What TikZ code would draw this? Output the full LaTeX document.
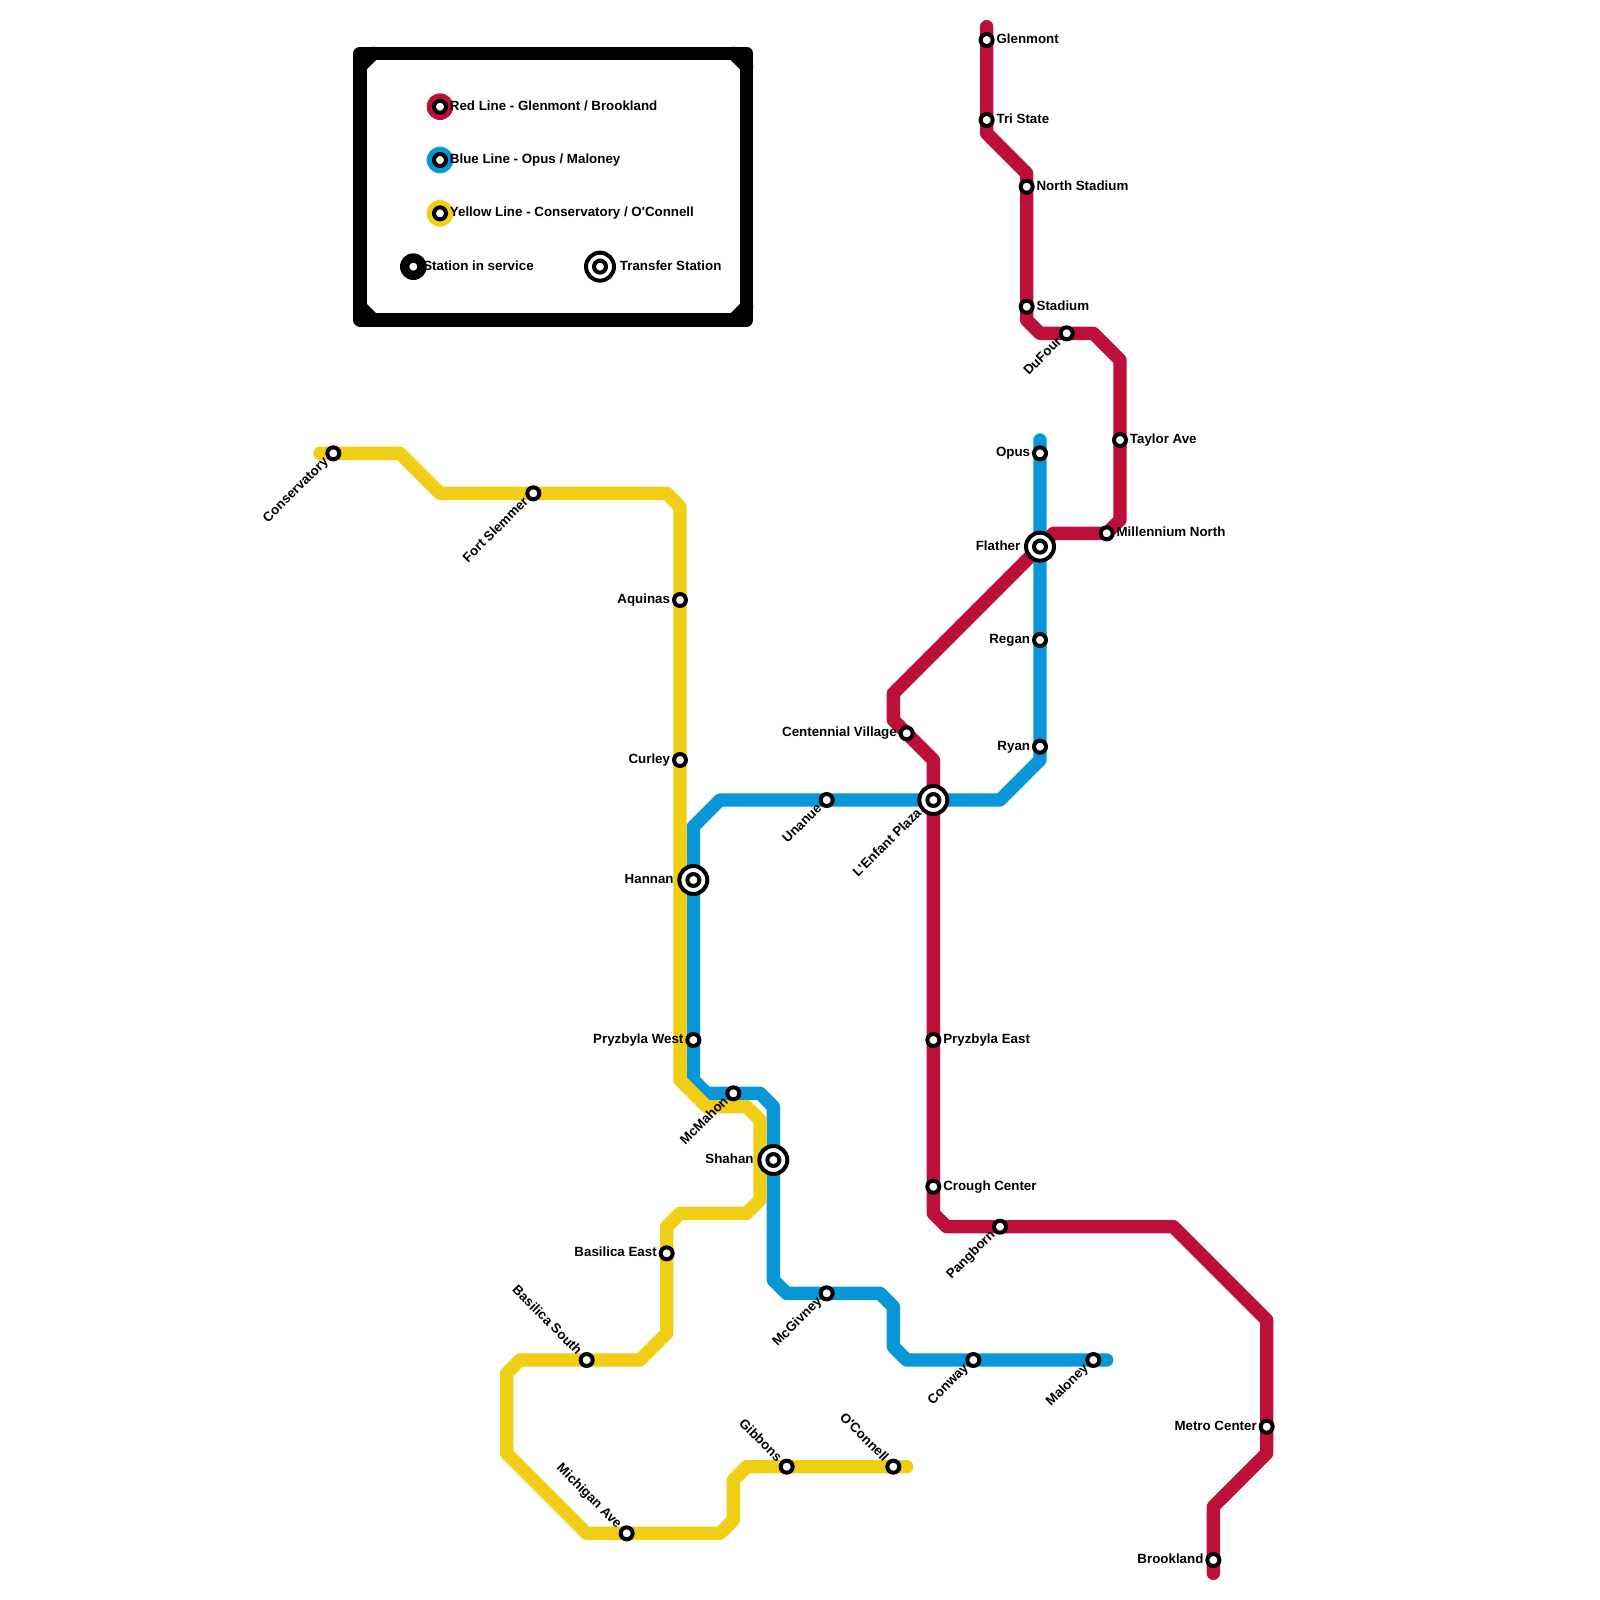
\documentclass[tikz,border=0pt]{standalone}
\usepackage{fontspec}
\newfontfamily\lblfont{Liberation Sans}
\definecolor{mred}{HTML}{BD1038}
\definecolor{mblue}{HTML}{0896D7}
\definecolor{myellow}{HTML}{F0CE15}
\pgfdeclarelayer{rails}
\pgfsetlayers{rails,main}
\tikzset{
  rail/.style={line width=10pt,line cap=round,line join=round},
  frame/.style={rail,draw=black},
  stop/.style={circle,draw=black,fill=white,line width=3pt,minimum size=9pt,inner sep=0pt},
  hub/.style={circle,draw=black,fill=white,line width=3pt,minimum size=21pt,inner sep=0pt},
  dot/.style={circle,inner sep=0pt,minimum size=20pt},
  txt/.style={font=\lblfont\bfseries\fontsize{10pt}{12pt}\selectfont,inner sep=0pt,text=black},
  lr/.style={txt,anchor=base west,shift={(7.25pt,-2.5pt)}},
  ll/.style={txt,anchor=base east,shift={(-7.25pt,-2.5pt)}},
  il/.style={txt,anchor=base east,shift={(-14.6pt,-2.5pt)}},
  dl/.style={txt,anchor=base east,rotate=45,shift={(-6.9pt,-2.44pt)}},
  ddl/.style={txt,anchor=base east,rotate=45,shift={(-13.05pt,-1.45pt)}},
  ul/.style={txt,anchor=base east,rotate=-45,shift={(-7.44pt,-3.07pt)}},
}
\newcommand{\hubmark}[2]{\node[hub] (#1-o) at (#2) {}; \node[stop] (#1) at (#2) {};}
\begin{document}
\begin{tikzpicture}[x=10pt,y=-10pt]
\useasboundingbox (0,0) rectangle (120,120);
% stations red
\node[stop] (glenmont) at (74,3) {};
\node[stop] (tristate) at (74,9) {};
\node[stop] (northstadium) at (77,14) {};
\node[stop] (stadium) at (77,23) {};
\node[stop] (dufour) at (80,25) {};
\node[stop] (taylor) at (84,33) {};
\node[stop] (millennium) at (83,40) {};
\node[stop] (centennial) at (68,55) {};
\node[stop] (pryzeast) at (70,78) {};
\node[stop] (crough) at (70,89) {};
\node[stop] (pangborn) at (75,92) {};
\node[stop] (metro) at (95,107) {};
\node[stop] (brookland) at (91,117) {};
% stations blue
\node[stop] (opus) at (78,34) {};
\node[stop] (regan) at (78,48) {};
\node[stop] (ryan) at (78,56) {};
\node[stop] (unanue) at (62,60) {};
\node[stop] (pryzwest) at (52,78) {};
\node[stop] (mcmahon) at (55,82) {};
\node[stop] (mcgivney) at (62,97) {};
\node[stop] (conway) at (73,102) {};
\node[stop] (maloney) at (82,102) {};
% stations yellow
\node[stop] (conservatory) at (25,34) {};
\node[stop] (slemmer) at (40,37) {};
\node[stop] (aquinas) at (51,45) {};
\node[stop] (curley) at (51,57) {};
\node[stop] (baseast) at (50,94) {};
\node[stop] (bassouth) at (44,102) {};
\node[stop] (michigan) at (47,115) {};
\node[stop] (gibbons) at (59,110) {};
\node[stop] (oconnell) at (67,110) {};
% transfer stations
\hubmark{flather}{78,41}
\hubmark{lenfant}{70,60}
\hubmark{hannan}{52,66}
\hubmark{shahan}{58,87}
% free ends and bends
\coordinate (r0) at (74,2);
\coordinate (r1) at (74,10);
\coordinate (r2) at (77,13);
\coordinate (r3) at (77,24);
\coordinate (r4) at (78,25);
\coordinate (r5) at (82,25);
\coordinate (r6) at (84,27);
\coordinate (r7) at (84,39);
\coordinate (r8) at (79,40);
\coordinate (r9) at (67,52);
\coordinate (r10) at (67,54);
\coordinate (r11) at (70,57);
\coordinate (r12) at (70,91);
\coordinate (r13) at (71,92);
\coordinate (r14) at (88,92);
\coordinate (r15) at (95,99);
\coordinate (r16) at (95,109);
\coordinate (r17) at (91,113);
\coordinate (r18) at (91,118);
\coordinate (b0) at (78,33);
\coordinate (b1) at (78,57);
\coordinate (b2) at (75,60);
\coordinate (b3) at (54,60);
\coordinate (b4) at (52,62);
\coordinate (b5) at (52,81);
\coordinate (b6) at (53,82);
\coordinate (b7) at (57,82);
\coordinate (b8) at (58,83);
\coordinate (b9) at (58,96);
\coordinate (b10) at (59,97);
\coordinate (b11) at (66,97);
\coordinate (b12) at (67,98);
\coordinate (b13) at (67,101);
\coordinate (b14) at (68,102);
\coordinate (b15) at (83,102);
\coordinate (y0) at (24,34);
\coordinate (y1) at (30,34);
\coordinate (y2) at (33,37);
\coordinate (y3) at (50,37);
\coordinate (y4) at (51,38);
\coordinate (y5) at (51,81);
\coordinate (y6) at (53,83);
\coordinate (y7) at (56,83);
\coordinate (y8) at (57,84);
\coordinate (y9) at (57,90);
\coordinate (y10) at (56,91);
\coordinate (y11) at (51,91);
\coordinate (y12) at (50,92);
\coordinate (y13) at (50,100);
\coordinate (y14) at (48,102);
\coordinate (y15) at (39,102);
\coordinate (y16) at (38,103);
\coordinate (y17) at (38,109);
\coordinate (y18) at (44,115);
\coordinate (y19) at (54,115);
\coordinate (y20) at (55,114);
\coordinate (y21) at (55,111);
\coordinate (y22) at (56,110);
\coordinate (y23) at (68,110);
\begin{pgfonlayer}{rails}
\draw[rail,mred] (r0) -- (glenmont.center) -- (tristate.center) -- (r1) -- (r2) -- (northstadium.center) -- (stadium.center) -- (r3) -- (r4) -- (dufour.center) -- (r5) -- (r6) -- (taylor.center) -- (r7) -- (millennium.center) -- (r8) -- (flather.center) -- (r9) -- (r10) -- (centennial.center) -- (r11) -- (lenfant.center) -- (pryzeast.center) -- (crough.center) -- (r12) -- (r13) -- (pangborn.center) -- (r14) -- (r15) -- (metro.center) -- (r16) -- (r17) -- (brookland.center) -- (r18);
\draw[rail,mblue] (b0) -- (opus.center) -- (flather.center) -- (regan.center) -- (ryan.center) -- (b1) -- (b2) -- (lenfant.center) -- (unanue.center) -- (b3) -- (b4) -- (hannan.center) -- (pryzwest.center) -- (b5) -- (b6) -- (mcmahon.center) -- (b7) -- (b8) -- (shahan.center) -- (b9) -- (b10) -- (mcgivney.center) -- (b11) -- (b12) -- (b13) -- (b14) -- (conway.center) -- (maloney.center) -- (b15);
\draw[rail,myellow] (y0) -- (conservatory.center) -- (y1) -- (y2) -- (slemmer.center) -- (y3) -- (y4) -- (aquinas.center) -- (curley.center) -- (y5) -- (y6) -- (y7) -- (y8) -- (y9) -- (y10) -- (y11) -- (y12) -- (baseast.center) -- (y13) -- (y14) -- (bassouth.center) -- (y15) -- (y16) -- (y17) -- (y18) -- (michigan.center) -- (y19) -- (y20) -- (y21) -- (y22) -- (gibbons.center) -- (oconnell.center) -- (y23);
\end{pgfonlayer}
% legend frame
\coordinate (f1) at (27,4); \coordinate (f2) at (56,4); \coordinate (f3) at (56,24); \coordinate (f4) at (27,24);
\coordinate (f1a) at (28,4); \coordinate (f1b) at (27,5);
\coordinate (f2a) at (55,4); \coordinate (f2b) at (56,5);
\coordinate (f3a) at (55,24); \coordinate (f3b) at (56,23);
\coordinate (f4a) at (28,24); \coordinate (f4b) at (27,23);
\draw[frame] (f1) -- (f2) -- (f3) -- (f4) -- cycle;
\draw[frame] (f1a) -- (f1b); \draw[frame] (f2a) -- (f2b); \draw[frame] (f3a) -- (f3b); \draw[frame] (f4a) -- (f4b);
% legend entries
\node[dot,fill=mred] (kred-d) at (33,8) {};
\node[stop] (kred) at (33,8) {};
\node[dot,fill=mblue] (kblue-d) at (33,12) {};
\node[stop] (kblue) at (33,12) {};
\node[dot,fill=myellow] (kyellow-d) at (33,16) {};
\node[stop] (kyellow) at (33,16) {};
\node[dot,fill=black] (kserv-d) at (31,20) {};
\node[stop] (kserv) at (31,20) {};
\hubmark{ktrans}{45,20}
\node[lr] (t-kred) at (kred) {Red Line - Glenmont / Brookland};
\node[lr] (t-kblue) at (kblue) {Blue Line - Opus / Maloney};
\node[lr] (t-kyellow) at (kyellow) {Yellow Line - Conservatory / O'Connell};
\node[lr] (t-kserv) at (kserv) {Station in service};
\node[lr,shift={(7.5pt,0pt)}] (t-ktrans) at (ktrans) {Transfer Station};
% labels
\node[lr] (t-glenmont) at (glenmont) {Glenmont};
\node[lr] (t-tristate) at (tristate) {Tri State};
\node[lr] (t-northstadium) at (northstadium) {North Stadium};
\node[lr] (t-stadium) at (stadium) {Stadium};
\node[dl] (t-dufour) at (dufour) {DuFour};
\node[lr] (t-taylor) at (taylor) {Taylor Ave};
\node[lr] (t-millennium) at (millennium) {Millennium North};
\node[ll] (t-centennial) at (centennial) {Centennial Village};
\node[lr] (t-pryzeast) at (pryzeast) {Pryzbyla East};
\node[lr] (t-crough) at (crough) {Crough Center};
\node[dl] (t-pangborn) at (pangborn) {Pangborn};
\node[ll] (t-metro) at (metro) {Metro Center};
\node[ll] (t-brookland) at (brookland) {Brookland};
\node[ll] (t-opus) at (opus) {Opus};
\node[ll] (t-regan) at (regan) {Regan};
\node[ll] (t-ryan) at (ryan) {Ryan};
\node[dl] (t-unanue) at (unanue) {Unanue};
\node[ll] (t-pryzwest) at (pryzwest) {Pryzbyla West};
\node[dl] (t-mcmahon) at (mcmahon) {McMahon};
\node[dl] (t-mcgivney) at (mcgivney) {McGivney};
\node[dl] (t-conway) at (conway) {Conway};
\node[dl] (t-maloney) at (maloney) {Maloney};
\node[dl] (t-conservatory) at (conservatory) {Conservatory};
\node[dl] (t-slemmer) at (slemmer) {Fort Slemmer};
\node[ll] (t-aquinas) at (aquinas) {Aquinas};
\node[ll] (t-curley) at (curley) {Curley};
\node[ll] (t-baseast) at (baseast) {Basilica East};
\node[ul] (t-bassouth) at (bassouth) {Basilica South};
\node[ul] (t-michigan) at (michigan) {Michigan Ave};
\node[ul] (t-gibbons) at (gibbons) {Gibbons};
\node[ul] (t-oconnell) at (oconnell) {O'Connell};
\node[il] (t-flather) at (flather) {Flather};
\node[ddl] (t-lenfant) at (lenfant) {L'Enfant Plaza};
\node[il] (t-hannan) at (hannan) {Hannan};
\node[il] (t-shahan) at (shahan) {Shahan};
\end{tikzpicture}
\end{document}
